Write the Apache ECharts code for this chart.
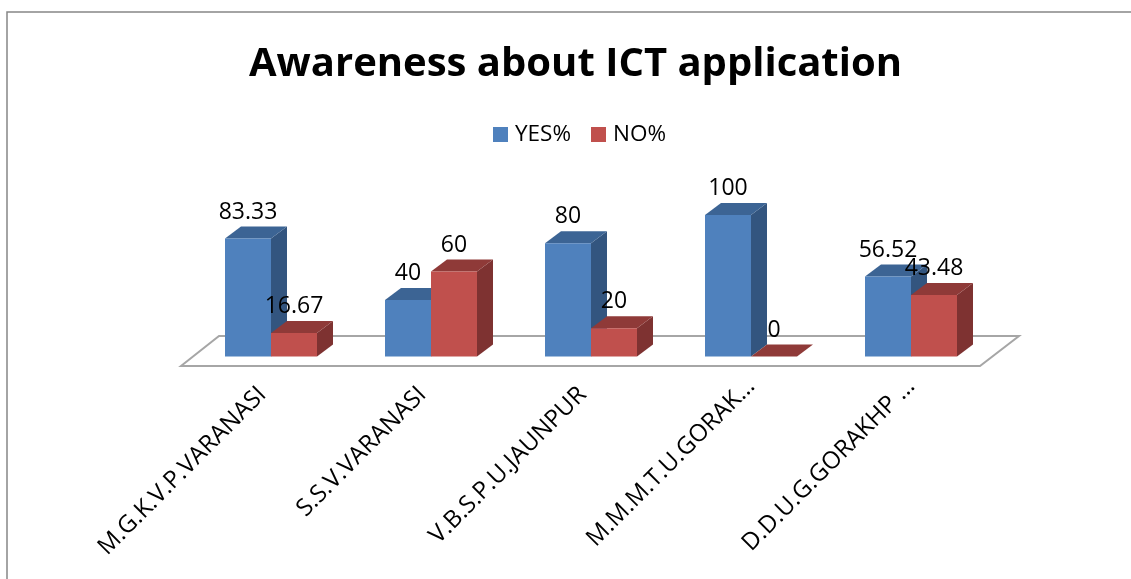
<!DOCTYPE html>
<html><head><meta charset="utf-8">
<style>html,body{margin:0;padding:0;background:#fff}#c{width:1131px;height:579px}</style>
<script src="https://cdn.jsdelivr.net/npm/echarts@6/dist/echarts.min.js"></script>
</head><body><div id="c"></div>
<script>
const titleText = 'Awareness about ICT application';
const categories = ['M.G.K.V.P.VARANASI','S.S.V.VARANASI','V.B.S.P.U.JAUNPUR','M.M.M.T.U.GORAK…','D.D.U.G.GORAKHP …'];
const yesValues = [83.33, 40, 80, 100, 56.52];
const noValues = [16.67, 60, 20, 0, 43.48];
const FONT = '"Open Sans"';
const DX = 16, DY = 12;

function bar3d(side, colors) {
  return function (params, api) {
    const base = api.coord([api.value(0), 0]);
    const top = api.coord([api.value(0), api.value(1)]);
    const w = api.size([1, 0])[0] * 0.2875;
    const x0 = side < 0 ? base[0] - w : base[0];
    const x1 = x0 + w, yb = base[1], yt = top[1];
    const poly = (pts, fill) => ({type: 'polygon', shape: {points: pts}, style: {fill}});
    const children = [
      poly([[x1, yb], [x1 + DX, yb - DY], [x1 + DX, yt - DY], [x1, yt]], colors.side),
      poly([[x0, yt], [x0 + DX, yt - DY], [x1 + DX, yt - DY], [x1, yt]], colors.top),
      {type: 'rect', shape: {x: x0, y: yt, width: w, height: yb - yt}, style: {fill: colors.front}},
      {type: 'text', z2: 10, style: {text: String(api.value(1)), x: (x0 + x1) / 2, y: yt - 15,
        textAlign: 'center', textVerticalAlign: 'bottom', fill: '#000', font: '23px ' + FONT}}
    ];
    return {type: 'group', children};
  };
}
function floor(params, api) {
  const yb = api.coord([0, 0])[1];
  const x = params.coordSys.x, w = params.coordSys.width;
  return {type: 'polygon', shape: {points: [[x - 10, yb + 9.5], [x + 28, yb - 20.5], [x + w + 28, yb - 20.5], [x + w - 11, yb + 9.5]]},
    style: {fill: '#fff', stroke: '#a6a6a6', lineWidth: 2}};
}
const chart = echarts.init(document.getElementById('c'), null, {renderer: 'canvas'});
chart.setOption({
  animation: false,
  backgroundColor: '#fff',
  title: {text: titleText, left: 244, top: 40, textStyle: {fontFamily: FONT, fontWeight: 'bold', fontSize: 40, color: '#000'}},
  legend: {data: ['YES%', 'NO%'], left: 493, top: 123, padding: 0, itemWidth: 15, itemHeight: 15, itemGap: 20, icon: 'rect',
    textStyle: {fontFamily: FONT, fontSize: 22.5, color: '#000', padding: [0, 0, 0, 2]}},
  grid: {left: 191, width: 800, top: 215, height: 141.5},
  xAxis: {type: 'category',
    data: categories.map(c => c.endsWith('…') ? {value: c, textStyle: {padding: [0, 0, 0, 0]}} : c),
    axisLine: {show: false}, axisTick: {show: false}, splitLine: {show: false},
    axisLabel: {rotate: 45, interval: 0, margin: 26, padding: [0, 12, 0, 0], fontFamily: FONT, fontSize: 24, color: '#000'}},
  yAxis: {type: 'value', min: 0, max: 100, show: false},
  graphic: [{type: 'rect', silent: true, shape: {x: 7, y: 12, width: 1300, height: 800}, style: {fill: 'none', stroke: '#868686', lineWidth: 1.5}, z: -1}],
  series: [
    {type: 'custom', silent: true, clip: false, renderItem: floor, data: [[0, 0]], z: 1, encode: {x: 0, y: 1}},
    {type: 'custom', name: 'YES%', clip: false, z: 2, itemStyle: {color: '#4f81bd'}, encode: {x: 0, y: 1},
      renderItem: bar3d(-1, {front: '#4f81bd', top: '#3c6494', side: '#33557f'}),
      data: yesValues.map((v, i) => [i, v])},
    {type: 'custom', name: 'NO%', clip: false, z: 3, itemStyle: {color: '#c0504d'}, encode: {x: 0, y: 1},
      renderItem: bar3d(1, {front: '#c0504d', top: '#8f3a38', side: '#7e3231'}),
      data: noValues.map((v, i) => [i, v])}
  ]
});
</script></body></html>
